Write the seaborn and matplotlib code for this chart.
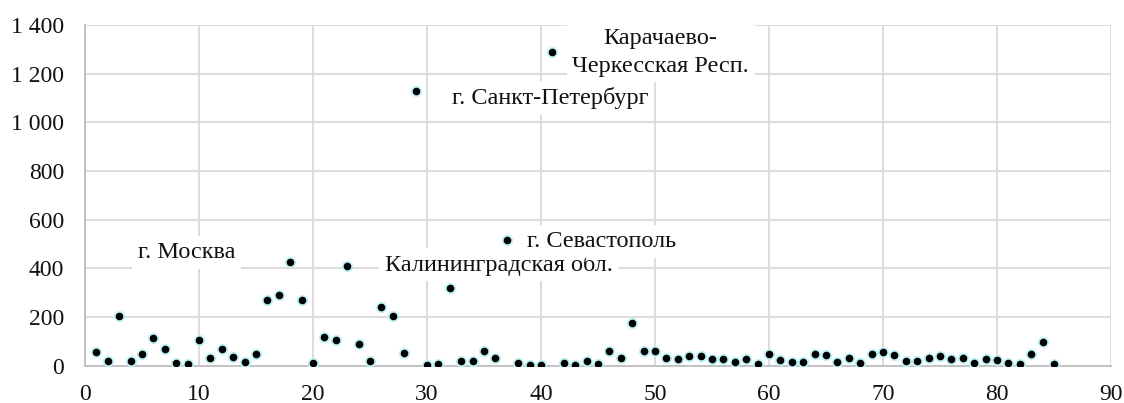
import matplotlib
matplotlib.use("Agg")
import matplotlib.pyplot as plt
import seaborn as sns
import pandas as pd
from matplotlib.ticker import FuncFormatter

# region number (1..85) and its value
regions = list(range(1, 86))
values = [
    58, 21, 205, 21, 48, 114, 69, 12, 7, 104,
    30, 69, 37, 15, 47, 271, 289, 426, 271, 12,
    118, 107, 410, 89, 21, 242, 203, 51, 1129, 4,
    8, 319, 18, 18, 59, 32, 515, 12, 3, 2,
    1291, 10, 2, 18, 5, 62, 30, 175, 62, 62,
    30, 26, 38, 40, 27, 27, 15, 29, 7, 49,
    23, 16, 16, 47, 43, 16, 33, 10, 49, 55,
    43, 18, 21, 30, 38, 27, 33, 12, 26, 23,
    12, 8, 48, 98, 5,
]

# labels: text, x, y (data coords of text centre)
label_texts = ["г. Москва", "Калининградская обл.", "г. Севастополь",
               "г. Санкт-Петербург", "Карачаево-\nЧеркесская Респ."]
label_x = [8.9, 36.3, 45.3, 40.8, 50.5]
label_y = [465, 415, 510, 1100, 1288]

df = pd.DataFrame({"region": regions, "value": values})

sns.set_style("white")
plt.rcParams["font.family"] = ["Liberation Serif", "DejaVu Serif"]

fig = plt.figure(figsize=(11.24, 4.03), dpi=100)
ax = fig.add_axes([0.0756, 0.0926, 0.9128, 0.8454])

sns.scatterplot(data=df, x="region", y="value", ax=ax, color="black",
                edgecolor="#bdf3f6", linewidth=1.3, s=46, zorder=3)

for t, lx, ly in zip(label_texts, label_x, label_y):
    ax.text(lx, ly, t, ha="center", va="center", fontsize=17.5, color="#111111",
            linespacing=1.45, zorder=4,
            bbox=dict(facecolor="white", edgecolor="none", pad=4))

ax.set_xlim(0, 90)
ax.set_ylim(0, 1400)
ax.set_xticks(range(0, 91, 10))
ax.set_yticks(range(0, 1401, 200))
ax.yaxis.set_major_formatter(FuncFormatter(lambda v, p: f"{int(v):,}".replace(",", " ")))
ax.grid(True, color="#d9d9d9", linewidth=1.3)
ax.set_axisbelow(True)
ax.tick_params(length=0, labelsize=17, labelcolor="#111111")
ax.tick_params(axis="x", pad=13)
ax.tick_params(axis="y", pad=15)
ax.set_xlabel("")
ax.set_ylabel("")
for s in ["top", "right"]:
    ax.spines[s].set_visible(False)
for s in ["left", "bottom"]:
    ax.spines[s].set_color("#bfbfbf")
    ax.spines[s].set_linewidth(1.3)

fig.savefig("out.png", dpi=100)
